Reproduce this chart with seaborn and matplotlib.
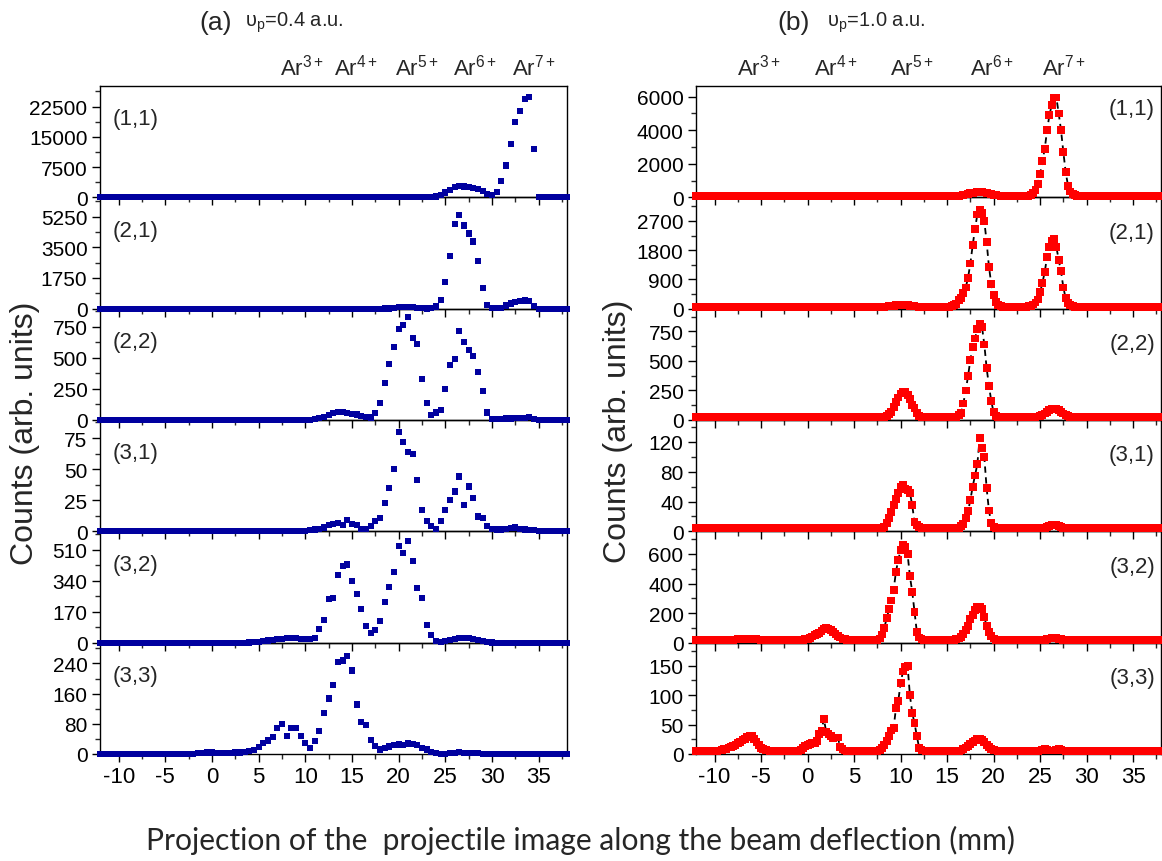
import numpy as np
import matplotlib
matplotlib.use("Agg")
import matplotlib.pyplot as plt
from matplotlib.ticker import AutoMinorLocator, FixedLocator
import seaborn as sns

# ---------------- data ----------------
# left column: v_p = 0.4 a.u., x grid -12 .. 38 mm, step 0.5 mm (101 values)
x_left = np.arange(-12.0, 38.001, 0.5)
# right column: v_p = 1.0 a.u., x grid -12 .. 38 mm, step 0.25 mm (201 values)
x_right = np.arange(-12.0, 38.001, 0.25)

panel_names = ["(1,1)", "(2,1)", "(2,2)", "(3,1)", "(3,2)", "(3,3)"]

a11 = [0,0,0,0,0,0,0,0,0,0,
       0,0,0,0,0,0,0,0,0,0,
       0,0,0,0,0,0,0,0,0,0,
       0,0,0,0,0,0,0,0,0,0,
       0,0,0,0,0,0,0,0,0,0,
       0,0,0,0,0,0,0,0,0,0,
       0,0,0,0,0,0,0,0,0,0,
       0,50,200,600,1200,1900,2600,2900,2700,2500,
       2300,2000,1500,900,600,1300,4000,7900,13300,18700,
       21500,24300,24800,12000,0,0,0,0,0,0,
       0]
a21 = [0,0,0,0,0,0,0,0,0,0,
       0,0,0,0,0,0,0,0,0,0,
       0,0,0,0,0,0,0,0,0,0,
       0,0,0,0,0,0,0,0,0,0,
       0,0,0,0,0,0,0,0,0,0,
       0,0,0,0,0,0,0,0,0,0,
       0,5,15,30,80,100,100,80,40,20,
       10,20,120,500,1540,3000,4830,5360,4740,4290,
       3830,2730,1180,200,40,40,60,180,300,380,
       450,470,430,150,0,0,0,0,0,0,
       0]
a22 = [0,0,0,0,0,0,0,0,0,0,
       0,0,0,0,0,0,0,0,0,0,
       0,0,0,0,0,0,0,0,0,0,
       0,0,0,0,0,0,0,0,0,0,
       0,0,0,0,0,3,8,15,25,40,
       55,62,67,56,50,45,30,22,20,55,
       134,295,450,584,732,761,825,657,608,327,
       134,40,60,80,247,442,488,716,624,563,
       517,383,236,60,10,8,10,12,12,14,
       15,18,21,10,0,0,0,0,0,0,
       0]
a31 = [0,0,0,0,0,0,0,0,0,0,
       0,0,0,0,0,0,0,0,0,0,
       0,0,0,0,0,0,0,0,0,0,
       0,0,0,0,0,0,0,0,0,0,
       0,0,0,0,0.5,1,1.5,2,3,5,
       6,7,5,9,6,5,2,2,4,8,
       11,23,35,50,80,72,64,62,41,17,
       8,4,2,8,17,25,32,44,21,36,
       27,12,11,4,2,1.5,1.5,2,2.5,3,
       2,1.5,1,1,0.5,0,0,0,0,0,
       0]
a32 = [0,0,0,0,0,0,0,0,0,0,
       0,0,0,0,0,0,0,0,0,0,
       0,0,0,0,0,0,0,0,0,0,
       0,0,1,2,5,8,12,15,18,22,
       24,26,24,20,18,22,26,73,123,242,
       247,371,420,430,339,269,183,92,51,68,
       119,223,307,388,530,494,558,448,302,247,
       95,40,10,5,8,15,22,25,26,24,
       20,15,9,4,1,0,0,0,0,0,
       0,0,0,0,0,0,0,0,0,0,
       0]
a33 = [0,0,0,0,0,0,0,0,0,0,
       0,0,0,0,0,0,0,0,0,0,
       1,2,3,4,4,3,3,3,3,4,
       4,5,7,10,18,30,36,45,68,79,
       48,68,69,48,30,16,34,60,108,147,
       183,244,248,260,221,131,84,77,37,21,
       12,16,20,24,25,23,28,26,23,16,
       12,6,2,1,1,2,3,5,3,2,
       3,2,1,0,0,0,0,0,0,0,
       0,0,0,0,0,0,0,0,0,0,
       0]

b11 = [70,70,70,70,70,70,70,70,70,70,70,70,70,70,70,70,70,70,70,70,
       70,70,70,70,70,70,70,70,70,70,70,70,70,70,70,70,70,70,70,70,
       70,70,70,70,70,70,70,70,70,70,70,70,70,70,70,70,70,70,70,70,
       70,70,70,70,70,70,70,70,70,70,70,70,70,70,70,70,70,70,70,70,
       70,70,70,70,70,70,70,70,70,70,70,70,70,70,70,70,70,70,70,70,
       70,70,70,70,70,70,70,70,70,70,70,70,80,95,110,140,170,205,240,265,
       290,300,310,300,290,260,230,195,160,130,110,95,80,75,70,70,70,70,70,70,
       70,70,80,100,150,260,450,800,1400,2150,2900,4000,4900,5500,5950,5950,5000,4000,2700,1500,
       700,350,200,120,90,75,70,70,70,70,70,70,70,70,70,70,70,70,70,70,
       70,70,70,70,70,70,70,70,70,70,70,70,70,70,70,70,70,70,70,70,
       70]
b21 = [60,60,60,60,60,60,60,60,60,60,60,60,60,60,60,60,60,60,60,60,
       60,60,60,60,60,60,60,60,60,60,60,60,60,60,60,60,60,60,60,60,
       60,60,60,60,60,60,60,60,60,60,60,60,60,60,60,60,60,60,60,60,
       60,60,60,60,60,60,60,60,60,60,60,60,60,60,60,60,60,60,60,60,
       60,60,65,70,80,90,100,105,110,110,105,100,90,80,70,65,60,60,60,60,
       60,60,60,60,60,60,60,60,60,60,70,100,150,260,340,480,650,950,1390,1950,
       2450,2900,3050,2950,2700,2050,1290,760,420,200,100,70,60,60,60,60,60,60,60,60,
       60,60,60,70,90,130,190,280,500,800,1130,1600,1900,2100,2150,1900,1500,1150,650,320,
       170,100,70,60,60,60,60,60,60,60,60,60,60,60,60,60,60,60,60,60,
       60,60,60,60,60,60,60,60,60,60,60,60,60,60,60,60,60,60,60,60,
       60]
b22 = [22,22,22,22,22,22,22,22,22,22,22,22,22,22,22,22,22,22,22,22,
       22,22,22,22,22,22,22,22,22,22,22,22,22,22,22,22,22,22,22,22,
       22,22,22,22,22,22,22,22,22,22,22,22,22,22,22,22,22,22,22,22,
       22,22,22,22,22,22,22,22,22,22,22,22,22,22,22,22,22,22,22,22,
       25,28,35,50,65,110,150,190,225,240,238,213,175,130,100,62,36,26,22,22,
       22,22,22,22,22,22,22,22,22,22,22,22,25,40,62,140,250,370,510,620,
       690,770,810,790,640,440,290,160,65,32,22,22,22,22,22,22,22,22,22,22,
       22,22,22,22,22,22,25,30,35,45,55,70,85,93,97,93,85,70,55,42,
       33,27,24,22,22,22,22,22,22,22,22,22,22,22,22,22,22,22,22,22,
       22,22,22,22,22,22,22,22,22,22,22,22,22,22,22,22,22,22,22,22,
       22]
b31 = [4,4,4,4,4,4,4,4,4,4,4,4,4,4,4,4,4,4,4,4,
       4,4,4,4,4,4,4,4,4,4,4,4,4,4,4,4,4,4,4,4,
       4,4,4,4,4,4,4,4,4,4,4,4,4,4,4,5,5,5,4,4,
       4,4,4,4,4,4,4,4,4,4,4,4,4,4,4,4,4,4,4,4,
       5,6,11,18,26,35,43,51,60,62,57,55,52,35,12,9,6,5,4,4,
       4,4,4,4,4,4,4,4,4,4,4,4,4,5,7,10,18,27,42,60,
       75,90,125,112,100,58,28,11,6,4,4,4,4,4,4,4,4,4,4,4,
       4,4,4,4,4,4,4,4,4,4,5,6,7,8,9,8,7,6,5,4,
       4,4,4,4,4,4,4,4,4,4,4,4,4,4,4,4,4,4,4,4,
       4,4,4,4,4,4,4,4,4,4,4,4,4,4,4,4,4,4,4,4,
       4]
b32 = [18,18,18,18,18,18,18,18,18,18,18,18,18,18,18,18,20,21,22,23,
       24,25,25,25,24,23,22,21,20,19,18,18,18,18,18,18,18,18,18,18,
       18,18,18,18,18,19,20,22,27,32,42,50,57,65,80,92,97,95,88,72,
       56,44,35,27,22,19,18,18,18,18,18,18,18,18,18,18,18,19,20,28,
       55,100,165,225,285,357,480,560,625,660,650,600,450,345,210,70,35,22,19,18,
       18,18,18,18,18,18,18,18,18,18,18,20,23,28,40,60,85,115,160,190,
       221,239,242,225,175,110,72,45,28,20,18,18,18,18,18,18,18,18,18,18,
       18,18,18,18,18,18,18,18,18,18,20,24,28,33,35,32,26,22,19,18,
       18,18,18,18,18,18,18,18,18,18,18,18,18,18,18,18,18,18,18,18,
       18,18,18,18,18,18,18,18,18,18,18,18,18,18,18,18,18,18,18,18,
       18]
b33 = [5,5,5,5,5,5,5,5,5,5,6,7,8,9,11,12,13,15,18,21,
       24,26,29,30,30,26,20,15,10,8,7,6,5,5,5,5,5,5,5,5,
       5,5,5,5,5,7,10,13,16,17,18,19,22,34,40,60,37,34,30,27,
       28,28,12,8,6,5,5,5,5,5,5,5,5,5,5,5,5,5,5,7,
       10,15,22,30,40,44,78,90,120,140,148,150,100,70,52,30,10,7,6,5,
       5,5,5,5,5,5,5,5,5,5,5,5,5,5,6,8,11,14,17,20,
       23,25,26,24,20,16,12,9,7,6,5,5,5,5,5,5,5,5,5,5,
       5,5,5,5,5,5,5,5,6,7,8,7,6,6,6,7,8,7,6,5,
       5,5,5,5,5,5,5,5,5,5,5,5,5,5,5,5,5,5,5,5,
       5,5,5,5,5,5,5,5,5,5,5,5,5,5,5,5,5,5,5,5,
       5]

left_series = [a11, a21, a22, a31, a32, a33]
right_series = [b11, b21, b22, b31, b32, b33]

left_yticks = [[0, 7500, 15000, 22500], [0, 1750, 3500, 5250], [0, 250, 500, 750],
               [0, 25, 50, 75], [0, 170, 340, 510], [0, 80, 160, 240]]
right_yticks = [[0, 2000, 4000, 6000], [0, 900, 1800, 2700], [0, 250, 500, 750],
                [0, 40, 80, 120], [0, 200, 400, 600], [0, 50, 100, 150]]
left_ytop = [27600, 6350, 895, 89.5, 612, 295]
right_ytop = [6640, 3427, 943, 149.5, 753, 189]

x_ticks = [-10, -5, 0, 5, 10, 15, 20, 25, 30, 35]
ion_labels = ["3+", "4+", "5+", "6+", "7+"]
ion_x_left_px = [302, 356, 417, 475, 534]
ion_x_right_px = [759, 836, 912, 992, 1064]

# ---------------- style ----------------
sns.set_style("ticks")
plt.rcParams['font.family'] = ['Liberation Sans', 'DejaVu Sans']
plt.rcParams['mathtext.fontset'] = 'custom'
plt.rcParams['mathtext.rm'] = 'Liberation Sans'
plt.rcParams['mathtext.it'] = 'Liberation Sans:italic'
plt.rcParams['axes.linewidth'] = 1.0
plt.rcParams['axes.edgecolor'] = 'black'
plt.rcParams['axes.unicode_minus'] = False

W, H = 1162, 862
fig = plt.figure(figsize=(W / 100, H / 100), dpi=100)

TOP, BOT = 87.0, 755.0
ph = (BOT - TOP) / 6.0
cols = [(100.0, 566.7), (696.0, 1161.0)]
BLUE = '#00009F'
RED = '#FF0000'


def fx(px):
    return px / W


def fy(py):
    return 1 - py / H


for c, (x0, x1) in enumerate(cols):
    series = left_series if c == 0 else right_series
    xs = x_left if c == 0 else x_right
    yticks = left_yticks if c == 0 else right_yticks
    ytop = left_ytop if c == 0 else right_ytop
    for r in range(6):
        top_px = TOP + r * ph
        ax = fig.add_axes([fx(x0), fy(top_px + ph), (x1 - x0) / W, ph / H])
        ax.set_zorder(10 - r)
        ax.patch.set_alpha(0)
        y = np.array(series[r], dtype=float)
        if c == 0:
            sns.scatterplot(x=xs, y=y, ax=ax, marker='s', s=20, color=BLUE,
                            linewidth=0, edgecolor='none', legend=False,
                            clip_on=False, zorder=3)
        else:
            sns.lineplot(x=xs, y=y, ax=ax, color='black', linewidth=1.3,
                         linestyle=(0, (3.5, 2.5)), estimator=None,
                         legend=False, zorder=2)
            sns.scatterplot(x=xs, y=y, ax=ax, marker='s', s=32, color=RED,
                            linewidth=0, edgecolor='none', legend=False,
                            clip_on=False, zorder=3)
        ax.set_xlim(-12, 38)
        ax.set_ylim(0, ytop[r])
        ax.xaxis.set_major_locator(FixedLocator(x_ticks))
        ax.xaxis.set_minor_locator(AutoMinorLocator(2))
        ax.yaxis.set_major_locator(FixedLocator(yticks[r]))
        ax.yaxis.set_minor_locator(AutoMinorLocator(2))
        ax.tick_params(axis='both', which='major', direction='out', length=6,
                       width=1, labelsize=15, pad=3, colors='black')
        ax.tick_params(axis='x', which='major', labelsize=16)
        ax.tick_params(axis='both', which='minor', direction='out', length=3.5,
                       width=1)
        ax.tick_params(axis='x', top=False, labeltop=False,
                       labelbottom=(r == 5))
        ax.tick_params(axis='y', right=False)
        ax.set_xlabel('')
        ax.set_ylabel('')
        for s in ax.spines.values():
            s.set_linewidth(1.0)
            s.set_color('black')
        if c == 0:
            fig.text(fx(113), fy(top_px + 33), panel_names[r], ha='left',
                     va='center', fontsize=16)
        else:
            off = 23 if r == 0 else 35
            fig.text(fx(1155), fy(top_px + off), panel_names[r], ha='right',
                     va='center', fontsize=16)

# ion labels above the columns
for px, lab in zip(ion_x_left_px, ion_labels):
    fig.text(fx(px), fy(68), r'$\mathregular{Ar^{' + lab + '}}$', ha='center',
             va='center', fontsize=16)
for px, lab in zip(ion_x_right_px, ion_labels):
    fig.text(fx(px), fy(68), r'$\mathregular{Ar^{' + lab + '}}$', ha='center',
             va='center', fontsize=16)

# column titles
fig.text(fx(199), fy(23), '(a)', ha='left', va='center', fontsize=19)
fig.text(fx(245), fy(23), r'$\mathregular{υ_p}$=0.4 a.u.', ha='left',
         va='center', fontsize=14.5)
fig.text(fx(777), fy(23), '(b)', ha='left', va='center', fontsize=19)
fig.text(fx(827), fy(23), r'$\mathregular{υ_p}$=1.0 a.u.', ha='left',
         va='center', fontsize=14.5)

# axis labels
fig.text(fx(25), fy(433), 'Counts (arb. units)', rotation=90, ha='center',
         va='center', fontsize=23)
fig.text(fx(618), fy(431), 'Counts (arb. units)', rotation=90, ha='center',
         va='center', fontsize=23)
fig.text(fx(580), fy(840),
         'Projection of the  projectile image along the beam deflection (mm)',
         ha='center', va='center', fontsize=21.6, family=['Lato', 'DejaVu Sans'])

fig.savefig('out.png', dpi=100)
